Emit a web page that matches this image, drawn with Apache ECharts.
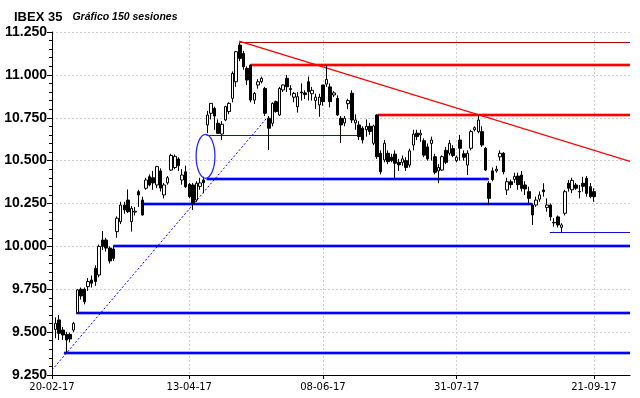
<!DOCTYPE html>
<html>
<head>
<meta charset="utf-8">
<script src="https://cdn.jsdelivr.net/npm/echarts@6/dist/echarts.min.js"></script>
<style>
html, body { margin: 0; padding: 0; background: #fff; }
#main { width: 640px; height: 398px; }
</style>
</head>
<body>
<div id="main"></div>
<script>
// IBEX 35, 150 sesiones (21-02-17 .. 21-09-17)
var opens = [9516,9571,9512,9487,9487,9512,9613,9750,9750,9765,9804,9872,9833,10037,10037,9990,9985,10086,10144,10241,
  10270,10144,10200,10319,10270,10339,10406,10400,10358,10440,10300,10370,10445,10460,10510,10387,10435,10362,10358,10270,
  10350,10387,10708,10776,10805,10718,10655,10737,10786,10863,10960,11174,11125,11038,11057,10853,10941,10960,10921,10747,
  10718,10844,10766,10912,10980,10920,10870,10814,10900,10895,10960,10890,10850,10825,10941,10946,10930,10883,10863,10747,
  10720,10832,10893,10720,10708,10689,10680,10700,10601,10766,10543,10504,10543,10520,10538,10490,10490,10500,10474,10591,
  10660,10650,10616,10580,10600,10523,10440,10445,10560,10543,10570,10500,10620,10540,10474,10572,10680,10669,10669,10572,
  10368,10440,10440,10522,10543,10329,10377,10390,10410,10416,10358,10319,10241,10241,10275,10329,10227,10241,10140,10172,
  10111,10193,10368,10330,10358,10320,10368,10397,10348,10319];
var closes = [9551,9493,9483,9454,9460,9551,9746,9711,9677,9795,9785,9795,10000,10000,9990,9915,9930,10164,10241,10212,
  10202,10222,10205,10300,10183,10387,10358,10370,10465,10340,10358,10400,10530,10525,10470,10416,10348,10290,10251,10368,
  10370,10371,10766,10834,10760,10659,10712,10815,10834,11009,11135,11096,11047,10970,10853,10892,10960,10980,10776,10689,
  10834,10786,10921,10941,10931,10915,10892,10873,10895,10885,10902,10910,10870,10870,10844,10973,10844,10895,10766,10708,
  10747,10850,10737,10737,10640,10620,10700,10670,10702,10523,10435,10601,10494,10500,10485,10475,10510,10460,10557,10655,
  10640,10660,10532,10510,10620,10432,10460,10523,10490,10601,10530,10520,10572,10520,10543,10669,10692,10737,10591,10445,
  10280,10390,10450,10543,10435,10377,10360,10408,10360,10338,10335,10280,10183,10270,10300,10319,10241,10172,10137,10125,
  10125,10319,10339,10385,10339,10318,10350,10309,10290,10290];
var lows = [9464,9454,9455,9377,9440,9500,9610,9690,9662,9740,9760,9770,9820,9979,9970,9900,9915,10050,10130,10190,
  10195,10086,10180,10230,10180,10330,10350,10330,10340,10320,10280,10360,10440,10450,10440,10360,10340,10280,10212,10260,
  10330,10309,10660,10740,10680,10659,10620,10730,10770,10840,10930,11080,11030,10940,10840,10830,10920,10950,10760,10562,
  10700,10780,10760,10900,10900,10880,10840,10780,10850,10860,10850,10850,10800,10756,10820,10930,10810,10870,10760,10603,
  10700,10800,10720,10680,10620,10600,10640,10650,10590,10510,10420,10490,10480,10490,10397,10440,10470,10440,10460,10560,
  10620,10610,10520,10500,10500,10420,10368,10440,10480,10530,10520,10490,10500,10500,10416,10560,10670,10660,10580,10440,
  10241,10380,10430,10500,10420,10300,10340,10370,10330,10320,10300,10251,10125,10231,10260,10290,10202,10150,10115,10110,
  10082,10180,10319,10310,10330,10280,10319,10290,10280,10260];
var highs = [9586,9600,9530,9502,9497,9560,9752,9760,9760,9815,9830,9890,10010,10090,10050,10000,10005,10175,10260,10260,
  10332,10235,10230,10330,10290,10400,10420,10440,10470,10455,10370,10410,10540,10535,10520,10450,10470,10370,10370,10380,
  10400,10406,10790,10836,10815,10740,10730,10820,10840,11020,11140,11190,11140,11050,11060,10900,10975,10990,10930,10760,
  10840,10850,10930,10945,11000,10940,10900,10900,10950,10910,10990,10930,10890,10890,10941,11057,10950,10905,10880,10760,
  10760,10860,10910,10770,10730,10700,10740,10720,10710,10770,10560,10620,10560,10540,10560,10510,10530,10520,10570,10680,
  10680,10680,10630,10600,10640,10540,10480,10530,10580,10620,10590,10530,10650,10560,10560,10680,10700,10766,10700,10580,
  10380,10460,10470,10560,10550,10400,10390,10430,10430,10440,10380,10348,10250,10290,10320,10368,10280,10250,10164,10180,
  10135,10330,10387,10400,10370,10358,10406,10410,10370,10339];

// eje X: huecos de sesion, el 0 es el 20-02-17
var slots = 161;
var tickPos = [0, 38, 75, 112, 150];
var tickText = ['20-02-17', '13-04-17', '08-06-17', '31-07-17', '21-09-17'];

// lineas de soporte / resistencia: [desde, hasta, nivel]
var blueLevels = [[3.3, 160, 9377], [6.7, 160, 9612], [17, 160, 10004], [24.9, 132.9, 10250], [42.8, 120.9, 10397]];
var blueThin = [[42.8, 84.9, 10648], [137.8, 160, 10082]];
var redLevels = [[55, 160, 11057], [90.2, 160, 10766]];
var redThin = [[52, 160, 11190]];
var redTrend = [[51.8, 11197], [160, 10495]];
var blueTrend = [[0, 9279], [59.4, 10747]];
var ellipseAt = [42.5, 10525];
var ellipseR = [2.6, 128];

var slotNames = [];
for (var k = 0; k < slots; k++) slotNames.push(String(k));

var candles = [];
for (var j = 0; j < opens.length; j++) {
  candles.push([j + 1, opens[j], closes[j], lows[j], highs[j]]);
}

function isTick(index) {
  return tickPos.indexOf(index) >= 0;
}

var lineItems = [];
blueLevels.forEach(function (l) {
  lineItems.push({ coords: [[l[0], l[2]], [l[1], l[2]]], lineStyle: { color: 'rgba(70,70,255,0.45)', width: 4, opacity: 1 } });
  lineItems.push({ coords: [[l[0], l[2]], [l[1], l[2]]], lineStyle: { color: '#0000ff', width: 2, opacity: 1 } });
});
redLevels.forEach(function (l) {
  lineItems.push({ coords: [[l[0], l[2]], [l[1], l[2]]], lineStyle: { color: 'rgba(255,70,70,0.45)', width: 4, opacity: 1 } });
  lineItems.push({ coords: [[l[0], l[2]], [l[1], l[2]]], lineStyle: { color: '#ff0000', width: 2, opacity: 1 } });
});
blueThin.forEach(function (l) {
  lineItems.push({ coords: [[l[0], l[2]], [l[1], l[2]]], lineStyle: { color: '#1010d0', width: 1, opacity: 1 } });
});
redThin.forEach(function (l) {
  lineItems.push({ coords: [[l[0], l[2]], [l[1], l[2]]], lineStyle: { color: '#b00000', width: 1, opacity: 1 } });
});
lineItems.push({ coords: redTrend, lineStyle: { color: '#ff0000', width: 1.2, opacity: 1 } });
lineItems.push({ coords: blueTrend, lineStyle: { color: '#0000ff', width: 1, type: [2, 2], opacity: 1 } });

var chart = echarts.init(document.getElementById('main'), null, { renderer: 'canvas' });

var gridDash = { color: '#cfcfd8', type: [2, 2], width: 1 };

var option = {
  animation: false,
  backgroundColor: '#fff',
  title: {
    left: 9,
    top: 3,
    text: '{a|IBEX 35}  {b|Gráfico 150 sesiones}',
    textStyle: {
      rich: {
        a: { fontFamily: 'Liberation Sans', fontWeight: 'bold', fontSize: 13, color: '#000' },
        b: { fontFamily: 'Liberation Sans', fontStyle: 'italic', fontSize: 10.5, color: '#000' }
      }
    }
  },
  grid: { left: 52, right: 10, top: 32, bottom: 23, containLabel: false },
  xAxis: [
    {
      type: 'category',
      data: slotNames,
      boundaryGap: false,
      axisLine: { lineStyle: { color: '#000', width: 1 } },
      axisTick: { show: true, interval: isTick, length: 4, lineStyle: { color: '#000' } },
      axisLabel: {
        interval: isTick,
        formatter: function (v, i) { var p = tickPos.indexOf(Number(v)); return p >= 0 ? tickText[p] : ''; },
        fontFamily: 'DejaVu Sans',
        fontSize: 10,
        color: '#000',
        margin: 7
      },
      splitLine: { show: true, interval: isTick, lineStyle: gridDash }
    },
    { type: 'value', min: 0, max: 160, show: false }
  ],
  yAxis: {
    type: 'value',
    min: 9250,
    max: 11250,
    interval: 250,
    axisLine: { show: true, lineStyle: { color: '#000', width: 1 } },
    axisTick: { show: true, length: 5, lineStyle: { color: '#000' } },
    minorTick: { show: true, splitNumber: 5, length: 3, lineStyle: { color: '#000' } },
    axisLabel: {
      margin: 5,
      fontFamily: 'Liberation Sans',
      fontWeight: 'bold',
      fontSize: 14,
      color: '#000',
      formatter: function (v) {
        var s = String(v);
        return s.slice(0, s.length - 3) + '.' + s.slice(s.length - 3);
      }
    },
    splitLine: { show: true, lineStyle: gridDash }
  },
  series: [
    {
      type: 'candlestick',
      xAxisIndex: 0,
      yAxisIndex: 0,
      data: candles,
      encode: { x: 0, y: [1, 2, 3, 4] },
      barWidth: 3,
      itemStyle: {
        color: '#fff',
        color0: '#000',
        borderColor: '#000',
        borderColor0: '#000',
        borderColorDoji: '#000',
        borderWidth: 1
      },
      z: 3
    },
    {
      type: 'lines',
      coordinateSystem: 'cartesian2d',
      xAxisIndex: 1,
      yAxisIndex: 0,
      silent: true,
      data: lineItems,
      z: 2
    }
  ]
};

chart.setOption(option);

// elipse marcada a mano en el grafico
var c = chart.convertToPixel({ seriesIndex: 1 }, ellipseAt);
var e = chart.convertToPixel({ seriesIndex: 1 }, [ellipseAt[0] + ellipseR[0], ellipseAt[1] + ellipseR[1]]);
chart.setOption({
  graphic: [{
    type: 'ellipse',
    shape: { cx: c[0], cy: c[1], rx: Math.abs(e[0] - c[0]), ry: Math.abs(c[1] - e[1]) },
    style: { fill: 'none', stroke: '#2a2aff', lineWidth: 1.3 },
    z: 10
  }]
});
</script>
</body>
</html>
